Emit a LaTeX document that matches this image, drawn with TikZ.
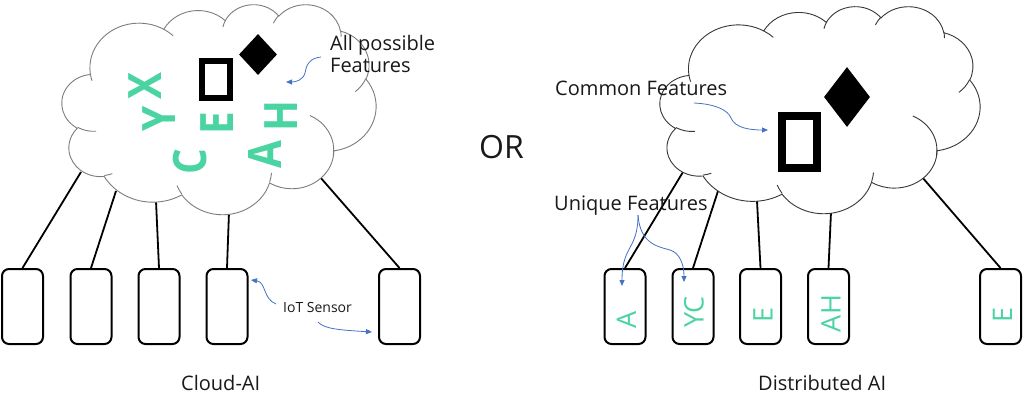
\documentclass[tikz,border=0pt]{standalone}
\usepackage{fontspec}
\setmainfont{Open Sans}
\usetikzlibrary{arrows.meta,shapes.geometric}
\definecolor{featgreen}{RGB}{74,212,162}
\definecolor{arrowblue}{RGB}{68,114,196}
\definecolor{cloudL}{RGB}{125,125,125}
\definecolor{cloudR}{RGB}{55,55,55}
\tikzset{
  oarc/.code n args={4}{%
    \pgfmathsetmacro\oarcA{atan2((#1)*sin(#3),(#2)*cos(#3))}%
    \pgfmathsetmacro\oarcB{atan2((#1)*sin((#3)+(#4)),(#2)*cos((#3)+(#4)))}%
    \pgfmathsetmacro\oarcD{mod(\oarcB-\oarcA+720,360)}%
    \edef\oarcTmp{\noexpand\pgfkeysalso{x radius=#1,y radius=#2,start angle=\oarcA,delta angle=\oarcD}}%
    \oarcTmp},
  sensor/.style={draw=black, line width=2pt, rounded corners=7pt, minimum width=41pt, minimum height=75pt, inner sep=0pt},
  conn/.style={draw=black, line width=1.8pt},
  bluearr/.style={draw=arrowblue, line width=0.8pt, -{Triangle[length=6pt,width=5pt]}},
  lbl/.style={font=\fontsize{20}{22}\selectfont, inner sep=0pt, text=black!90},
  featbig/.style={font=\fontsize{46}{46}\selectfont\bfseries, text=featgreen, rotate=90, xscale=0.88, inner sep=0pt},
  featsmall/.style={font=\fontsize{27}{27}\selectfont, text=featgreen, rotate=90, inner sep=0pt},
  featrect/.style={draw=black, line width=6pt, inner sep=0pt},
  featdiam/.style={diamond, fill=black, inner sep=0pt},
}
\newcommand\ocloud[2]{%
  \path[#1] (39.00,143.70)
    arc[oarc={67.53}{91.90}{-190.48748}{123.78053}]
    arc[oarc={53.33}{72.67}{-144.10238}{89.94523}]
    arc[oarc={43.65}{59.45}{-145.80792}{99.72302}]
    arc[oarc={48.57}{65.95}{-130.98607}{117.24173}]
    arc[oarc={53.33}{72.73}{-78.70888}{109.02692}]
    arc[oarc={67.75}{92.20}{-46.26725}{130.269}]
    arc[oarc={57.85}{78.67}{0.62502}{114.03333}]
    arc[oarc={67.52}{92.15}{22.4516}{115.17255}]
    arc[oarc={77.20}{105.43}{66.24263}{75.71102}]
    arc[oarc={43.60}{59.18}{-274.94208}{146.73557}]
    arc[oarc={43.45}{59.45}{-246.8285}{152.51885}]
    -- cycle;
  \path[#2]
    (46.93,261.77) arc[oarc={43.45}{59.45}{86.742}{26.4295}]
    (69.28,348.99) arc[oarc={43.60}{59.18}{73.61047}{11.44747}]
    (164.78,390.90) arc[oarc={67.52}{92.15}{137.62415}{14.0811}]
    (288.27,347.51) arc[oarc={67.52}{92.15}{6.45327}{15.99835}]
    (341.29,229.54) arc[oarc={57.85}{78.67}{-70.29235}{81.56947}]
    (417.98,153.54) arc[oarc={53.33}{72.73}{30.31803}{27.7515}]
    (383.24,54.26) arc[oarc={48.57}{65.95}{-13.74433}{14.8589}]
    (290.78,39.52) arc[oarc={48.57}{65.95}{-149.18145}{18.19537}]
    (221.41,47.20) arc[oarc={43.65}{59.45}{-163.49427}{17.68635}]
    (140.00,51.92) arc[oarc={67.53}{91.90}{-66.70695}{12.31935}]
    (41.27,157.89) arc[oarc={67.53}{91.90}{157.65435}{11.85817}];
}
\begin{document}
\begin{tikzpicture}[x=1pt,y=-1pt]
\useasboundingbox (0,0) rectangle (1024,410);
\fill[white] (0,0) rectangle (1024,410);

% ---------- sensors ----------
\node[sensor] (s1) at (22.5,306.5) {};
\node[sensor] (s2) at (91,306.5) {};
\node[sensor] (s3) at (159,306.5) {};
\node[sensor] (s4) at (227,306.5) {};
\node[sensor] (s5) at (399.5,306.5) {};
\node[sensor] (d1) at (625,306.5) {};
\node[sensor] (d2) at (693,306.5) {};
\node[sensor] (d3) at (760.5,306.5) {};
\node[sensor] (d4) at (828.5,306.5) {};
\node[sensor] (d5) at (1000.5,306.5) {};

% cloud attachment points
\coordinate (c1) at (81,172);
\coordinate (c2) at (116,191);
\coordinate (c3) at (156,201);
\coordinate (c4) at (229,212);
\coordinate (c5) at (320,177);
\coordinate (e1) at (683,172);
\coordinate (e2) at (718,191);
\coordinate (e3) at (757,201);
\coordinate (e4) at (831,212);
\coordinate (e5) at (922,177);

\draw[conn] (s1.north) -- (c1);
\draw[conn] (s2.north) -- (c2);
\draw[conn] (s3.north) -- (c3);
\draw[conn] (s4.north) -- (c4);
\draw[conn] (s5.north) -- (c5);
\draw[conn] (d1.north) -- (e1);
\draw[conn] (d2.north) -- (e2);
\draw[conn] (d3.north) -- (e3);
\draw[conn] (d4.north) -- (e4);
\draw[conn] (d5.north) -- (e5);

% ---------- clouds ----------
\begin{scope}[shift={(62,4)}, x=0.72685pt, y=-0.48611pt]
  \ocloud{fill=white, draw=cloudL, line width=0.9pt}{draw=cloudL, line width=0.9pt}
\end{scope}
\begin{scope}[shift={(660,6)}, x=0.74074pt, y=-0.47917pt]
  \ocloud{fill=white, draw=cloudR, line width=0.9pt}{draw=cloudR, line width=0.9pt}
\end{scope}

% ---------- features in left cloud ----------
\node[featrect, minimum width=28pt, minimum height=37pt] (rl) at (216,79.5) {};
\node[featdiam, minimum width=38pt, minimum height=41pt] (dl) at (258,54.5) {};
\node[featbig] (fX) at (145.5,86) {X};
\node[featbig] (fY) at (159,118.5) {Y};
\node[featbig] (fE) at (217,123.5) {E};
\node[featbig] (fC) at (190.5,161.5) {C};
\node[featbig] (fH) at (281.5,116) {H};
\node[featbig] (fA) at (265.5,155) {A};

% ---------- features in right cloud ----------
\node[featrect, line width=8pt, minimum width=35pt, minimum height=52pt] (rr) at (799.5,142) {};
\node[featdiam, minimum width=46pt, minimum height=60pt] (dr) at (847,97) {};

% ---------- unique features in sensors ----------
\node[featsmall] (uA) at (626.5,320) {A};
\node[featsmall] (uYC) at (694,312) {YC};
\node[featsmall] (uE) at (763,315) {E};
\node[featsmall] (uAH) at (831,313.5) {AH};
\node[featsmall] (uE2) at (1002.5,315) {E};

% ---------- labels ----------
\node[lbl, anchor=west, align=left] (allf) at (330,53.5) {All possible\\Features};
\node[lbl, anchor=base west] (comf) at (555,95) {Common Features};
\node[lbl, anchor=base west] (unif) at (554,210) {Unique Features};
\node[lbl, anchor=base west, font=\fontsize{14}{16}\selectfont] (iot) at (283,312.7) {IoT Sensor};
\node[lbl, anchor=base west] (cai) at (181,390) {Cloud-AI};
\node[lbl, anchor=base west] (dai) at (758,390) {Distributed AI};
\node[lbl, anchor=base west, font=\fontsize{32}{34}\selectfont] (or) at (479,158) {OR};

% ---------- callout arrows ----------
\coordinate (a1s) at (321,57);
\coordinate (a1e) at (286,82);
\draw[bluearr] (a1s) .. controls (309,58) and (306,66) .. (305,73) .. controls (303,80) and (296,82) .. (a1e);
\coordinate (a2s) at (694,103);
\coordinate (a2e) at (768,130);
\draw[bluearr] (a2s) .. controls (715,104) and (728,110) .. (731,118) .. controls (735,128) and (750,130) .. (a2e);
\coordinate (a3s) at (638,215);
\coordinate (a3e) at (622,286);
\coordinate (a4e) at (684,282);
\draw[bluearr] (a3s) .. controls (638,250) and (622,245) .. (a3e);
\draw[bluearr] (a3s) .. controls (640,245) and (660,247) .. (670,250) .. controls (680,253) and (684,265) .. (a4e);
\coordinate (a5s) at (276,304);
\coordinate (a5e) at (251,280);
\draw[bluearr] (a5s) .. controls (263,299) and (266,282) .. (a5e);
\coordinate (a6s) at (318,322);
\coordinate (a6e) at (372,332);
\draw[bluearr] (a6s) .. controls (324,329) and (340,330) .. (a6e);
\end{tikzpicture}
\end{document}
